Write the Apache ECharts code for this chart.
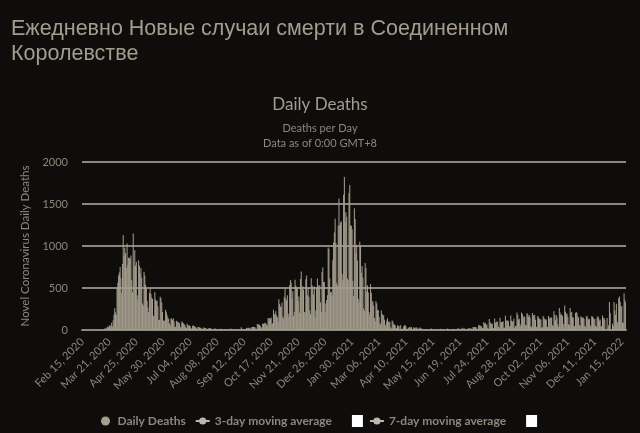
<!DOCTYPE html>
<html>
<head>
<meta charset="utf-8">
<script src="https://cdn.jsdelivr.net/npm/echarts@6/dist/echarts.min.js"></script>
<style>
html,body{margin:0;padding:0;background:#0f0d0c;}
#chart{width:640px;height:433px;}
</style>
</head>
<body>
<div id="chart"></div>
<script>
// ---- data (daily deaths) ----
const startDate = '2020-02-15';
const feb2020 = [0,0,0,0,0,0,0,0,0,0,0,0,0,0,0];
const mar2020 = [0,0,0,0,1,0,1,0,1,1,2,1,5,10,14,20,16,33,40,33,56,48,54,87,41,115,181,260,209,180,500];
const apr2020 = [563,650,684,750,621,439,786,1130,881,980,917,737,1030,778,861,861,847,888,596,449,1150,763,950,768,813,413,360,830,765,674];
const may2020 = [739,621,315,288,693,649,539,500,346,268,210,440,494,428,384,368,170,160,450,363,338,351,282,118,121,395,377,324,215,113,111];
const jun2020 = [111,240,210,176,150,130,77,55,140,135,120,140,100,36,38,110,100,95,90,80,43,15,100,90,80,70,60,36,25,75];
const jul2020 = [60,55,50,45,22,16,50,55,48,40,35,20,11,38,36,30,28,25,12,10,30,28,25,20,18,8,7,20,22,20,18];
const aug2020 = [12,5,4,16,18,14,12,10,4,3,12,14,10,11,8,3,4,13,12,10,9,7,2,3,16,14,12,9,8,2,1];
const sep2020 = [3,10,12,10,6,2,3,32,8,14,6,9,5,9,27,20,21,27,27,18,11,37,37,40,34,34,17,13,71,71];
const oct2020 = [66,59,49,33,19,76,70,77,87,81,65,50,143,137,138,136,150,67,80,241,191,189,224,174,151,102,367,310,280,274,326];
const nov2020 = [162,136,397,492,378,355,413,156,194,532,595,563,376,462,168,213,598,529,501,511,341,398,206,608,696,498,521,479,215,205];
const dec2020 = [603,648,414,504,397,231,189,616,533,516,424,519,144,232,506,612,532,489,534,326,215,691,744,570,570,210,316,357,414,981,964];
const jan2021 = [613,445,454,407,830,1041,1162,1325,1035,563,529,1243,1564,1248,1280,1295,671,599,1610,1820,1290,1401,1348,610,592,1631,1725,1239,1245,1200,587];
const feb2021 = [406,1449,1322,915,1014,828,373,333,1052,1001,678,758,621,258,230,799,738,454,533,445,215,178,548,442,323,345,290,144];
const mar2021 = [104,343,315,242,236,158,82,65,231,190,175,175,121,52,64,110,141,95,101,96,33,17,112,98,70,63,58,19,23,56,43];
const apr2021 = [51,10,58,10,9,20,45,53,60,40,7,13,23,33,34,32,32,10,4,33,22,29,18,32,17,1,17,29,22,15];
const may2021 = [15,1,1,5,2,13,13,8,4,4,11,11,17,11,7,4,1,7,9,9,10,6,0,5,14,10,12,10,0,6,0];
const jun2021 = [0,12,18,11,5,4,0,6,7,9,12,8,7,3,9,19,19,11,14,6,5,27,19,16,18,11,7,3,15,18];
const jul2021 = [21,18,18,15,9,37,33,35,34,32,14,6,50,63,49,51,41,25,19,96,73,84,63,65,28,14,131,91,86,68,74];
const aug2021 = [24,24,138,85,92,103,92,39,26,146,94,93,94,104,28,26,170,111,113,114,104,40,49,174,111,100,100,133,28,48,50];
const sep2021 = [207,178,121,134,68,45,209,191,147,165,156,56,61,201,185,158,178,148,49,34,203,165,182,180,121,40,37,167,150,137];
const oct2021 = [127,121,30,33,166,143,131,122,126,38,37,167,136,148,144,148,57,45,223,179,115,180,150,72,38,263,207,178,186,166,74];
const nov2021 = [40,293,217,193,194,155,69,57,262,201,214,150,150,49,45,201,214,199,157,150,61,44,165,149,147,150,131,51,35,159];
const dec2021 = [171,141,121,132,54,44,165,161,146,124,132,52,38,150,165,146,111,125,44,45,172,140,147,122,0,0,143,18,57,332,203];
const jan2022 = [0,0,73,48,334,231,179,313,97,77,379,398,335,270,287,88,85,438,359,330];

const yTicks = [0, 500, 1000, 1500, 2000];
const seriesNames = ['Daily Deaths', '3-day moving average', '7-day moving average'];

// ---- build ----
const dailyDeaths = [].concat(feb2020, mar2020, apr2020, may2020, jun2020, jul2020, aug2020,
  sep2020, oct2020, nov2020, dec2020, jan2021, feb2021, mar2021, apr2021, may2021, jun2021,
  jul2021, aug2021, sep2021, oct2021, nov2021, dec2021, jan2022);

const MONTHS = ['Jan','Feb','Mar','Apr','May','Jun','Jul','Aug','Sep','Oct','Nov','Dec'];
const categories = [];
(function(){
  const d0 = new Date(startDate + 'T00:00:00Z');
  for (let i = 0; i < dailyDeaths.length; i++) {
    const d = new Date(d0.getTime() + i * 86400000);
    const dd = String(d.getUTCDate()).padStart(2, '0');
    categories.push(MONTHS[d.getUTCMonth()] + ' ' + dd + ', ' + d.getUTCFullYear());
  }
})();

const chart = echarts.init(document.getElementById('chart'), null, {renderer: 'canvas'});
const txt = '#a39c8f';
const sub = '#8d877c';
chart.setOption({
  backgroundColor: '#0f0d0c',
  animation: false,
  title: [
    {
      text: 'Ежедневно Новые случаи смерти в Соединенном\nКоролевстве',
      left: 6, top: 12,
      textStyle: {color: txt, fontFamily: 'Liberation Sans', fontSize: 21.5, fontWeight: 'normal', lineHeight: 25}
    },
    {
      text: 'Daily Deaths',
      subtext: 'Deaths per Day\nData as of 0:00 GMT+8',
      left: 'center', top: 91, itemGap: 8,
      textStyle: {color: txt, fontFamily: 'Lato', fontSize: 17, fontWeight: 'normal'},
      subtextStyle: {color: sub, fontFamily: 'Lato', fontSize: 11, lineHeight: 15}
    }
  ],
  legend: {
    top: 410, left: 96,
    itemGap: 6, itemWidth: 14, itemHeight: 9,
    data: [
      {name: seriesNames[0], icon: 'circle'},
      {name: seriesNames[1]},
      {name: seriesNames[2]}
    ],
    formatter: function (n) {
      return n === seriesNames[0] ? n + '{sp1| }' : n + '{sp| }{box| }';
    },
    textStyle: {
      color: sub, fontFamily: 'Lato', fontSize: 12, fontWeight: 'bold',
      rich: {
        sp1: {width: 20},
        sp: {width: 20},
        box: {width: 11, height: 12, backgroundColor: '#ffffff'}
      }
    }
  },
  grid: {left: 82, right: 14, top: 162, bottom: 103},
  xAxis: {
    type: 'category',
    data: categories,
    boundaryGap: true,
    axisLine: {lineStyle: {color: '#8c877e', width: 2}},
    axisTick: {show: false},
    axisLabel: {color: sub, fontFamily: 'Lato', fontSize: 11, rotate: 45, interval: 34, margin: 10}
  },
  yAxis: {
    type: 'value',
    min: yTicks[0], max: yTicks[yTicks.length - 1], interval: 500,
    name: 'Novel Coronavirus Daily Deaths',
    nameLocation: 'middle', nameGap: 32,
    nameTextStyle: {color: sub, fontFamily: 'Lato', fontSize: 11.5},
    axisLine: {show: false}, axisTick: {show: false},
    axisLabel: {color: sub, fontFamily: 'Lato', fontSize: 11, margin: 14, formatter: function (v) { return String(v); }},
    splitLine: {lineStyle: {color: '#8c877e', width: 2}}
  },
  series: [
    {
      name: seriesNames[0], type: 'bar', data: dailyDeaths,
      itemStyle: {color: '#a69f8f'}, barCategoryGap: '25%'
    },
    {
      name: seriesNames[1], type: 'line', data: [], symbol: 'circle', symbolSize: 6,
      itemStyle: {color: '#bdb7ab'}, lineStyle: {color: '#bdb7ab', width: 2}
    },
    {
      name: seriesNames[2], type: 'line', data: [], symbol: 'circle', symbolSize: 6,
      itemStyle: {color: '#bdb7ab'}, lineStyle: {color: '#bdb7ab', width: 2}
    }
  ]
});
</script>
</body>
</html>
